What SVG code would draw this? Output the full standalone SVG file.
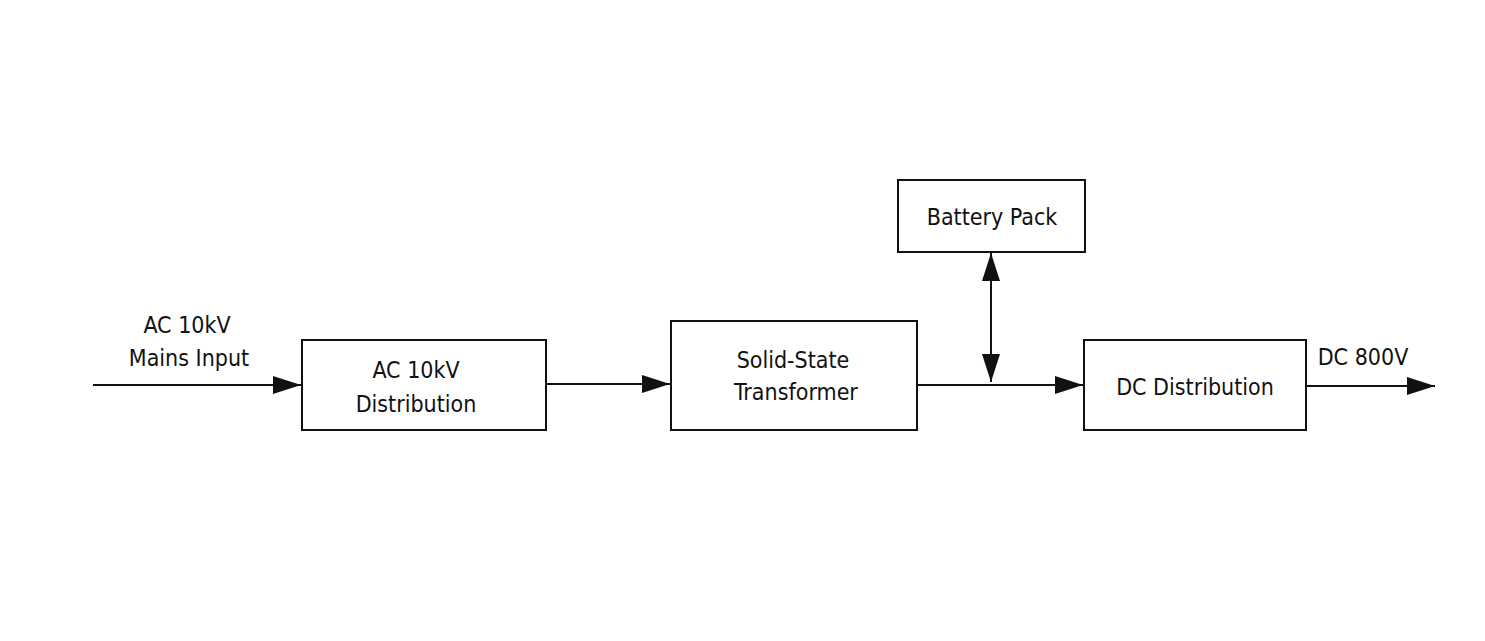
<svg xmlns="http://www.w3.org/2000/svg" width="1485" height="641" viewBox="0 0 1485 641">
<style>
.box{fill:#fff;stroke:#111;stroke-width:2}
.t{font-family:"DejaVu Sans Condensed","DejaVu Sans",sans-serif;font-size:23px;fill:#111;text-anchor:middle}
.c{stroke:#111;stroke-width:2;fill:none}
</style>
<defs>
<marker id="a" viewBox="0 0 10 10" refX="10" refY="5" markerWidth="14" markerHeight="10" markerUnits="userSpaceOnUse" orient="auto-start-reverse" preserveAspectRatio="none">
<path d="M0,0L10,5L0,10z" fill="#111"/>
</marker>
<marker id="b" viewBox="0 0 10 10" refX="10" refY="5" markerWidth="28" markerHeight="18" markerUnits="userSpaceOnUse" orient="auto-start-reverse" preserveAspectRatio="none">
<path d="M0,0L10,5L0,10z" fill="#111"/>
</marker>
</defs>
<rect width="1485" height="641" fill="#fff"/>
<g id="connectors">
<line class="c" x1="93" y1="385" x2="301" y2="385" marker-end="url(#b)"/>
<line class="c" x1="546" y1="384" x2="670" y2="384" marker-end="url(#b)"/>
<line class="c" x1="917" y1="385" x2="1083" y2="385" marker-end="url(#b)"/>
<line class="c" x1="991" y1="253" x2="991" y2="382" marker-start="url(#b)" marker-end="url(#b)"/>
<line class="c" x1="1306" y1="386" x2="1435" y2="386" marker-end="url(#b)"/>
</g>
<g id="input-label"><text class="t" x="187" y="333">AC 10kV</text><text class="t" x="189" y="366">Mains Input</text></g>
<g id="ac-dist"><rect class="box" x="302" y="340" width="244" height="90"/><text class="t" x="416" y="378">AC 10kV</text><text class="t" x="416" y="412">Distribution</text></g>
<g id="sst"><rect class="box" x="671" y="321" width="246" height="109"/><text class="t" x="793" y="368">Solid-State</text><text class="t" x="796" y="400">Transformer</text></g>
<g id="battery"><rect class="box" x="898" y="180" width="187" height="72"/><text class="t" x="992" y="225">Battery Pack</text></g>
<g id="dc-dist"><rect class="box" x="1084" y="340" width="222" height="90"/><text class="t" x="1195" y="395">DC Distribution</text></g>
<g id="output-label"><text class="t" x="1363" y="365">DC 800V</text></g>
</svg>
